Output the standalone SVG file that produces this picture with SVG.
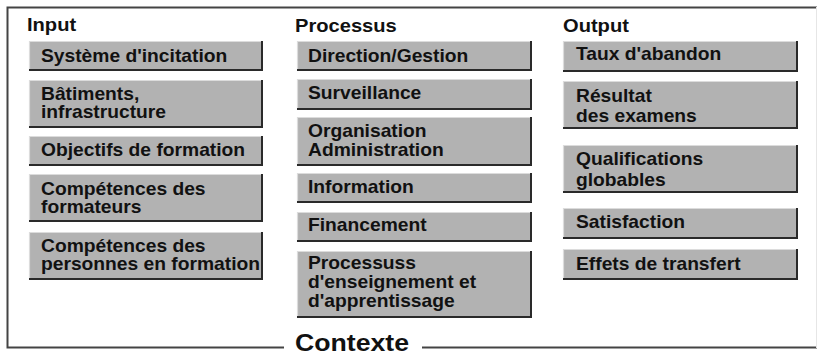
<svg xmlns="http://www.w3.org/2000/svg" width="817" height="352" viewBox="0 0 817 352">
<style>
.frame{fill:none;stroke:#444;stroke-width:2}
.box{fill:#b2b2b2}
.hl{fill:none;stroke:#dcdcdc;stroke-width:1.2}
.sh{fill:none;stroke:#2a2a2a;stroke-width:2}
.t{font-family:"Liberation Sans",Arial,sans-serif;font-weight:bold;font-size:17.5px;fill:#111}
.h{font-family:"Liberation Sans",Arial,sans-serif;font-weight:bold;font-size:17.5px;fill:#111}
.c{font-family:"Liberation Sans",Arial,sans-serif;font-weight:bold;font-size:23px;fill:#111}
</style>
<rect width="817" height="352" fill="#fff"/>
<g id="frame">
<path class="frame" d="M817,7.5 H7.5 V347.5 H284"/>
<path class="frame" d="M422,347.5 H817"/>
<line x1="816.5" y1="7" x2="816.5" y2="348" stroke="#e6e6e6" stroke-width="1"/>
<text class="c" transform="translate(295,351) scale(1.16,1)">Contexte</text>
</g>
<g id="headers">
<text class="h" transform="translate(27,31) scale(1.15,1)">Input</text>
<text class="h" transform="translate(295,32) scale(1.15,1)">Processus</text>
<text class="h" transform="translate(563,32) scale(1.15,1)">Output</text>
</g>
<g id="connectors"></g>
<!-- Input column -->
<g id="in1"><rect class="box" x="29" y="41" width="234" height="30"/><path class="hl" d="M29.5,71 V41.5 H263"/><path class="sh" d="M262,41 V70 H29"/><text class="t" transform="translate(41,62) scale(1.1,1)">Système d'incitation</text></g>
<g id="in2"><rect class="box" x="29" y="80" width="234" height="48"/><path class="hl" d="M29.5,128 V80.5 H263"/><path class="sh" d="M262,80 V127 H29"/><text class="t" transform="translate(41,100) scale(1.1,1)"><tspan x="0" y="0">Bâtiments,</tspan><tspan x="0" y="18.5">infrastructure</tspan></text></g>
<g id="in3"><rect class="box" x="29" y="136" width="234" height="30"/><path class="hl" d="M29.5,166 V136.5 H263"/><path class="sh" d="M262,136 V165 H29"/><text class="t" transform="translate(41,156) scale(1.1,1)">Objectifs de formation</text></g>
<g id="in4"><rect class="box" x="29" y="174" width="234" height="48"/><path class="hl" d="M29.5,222 V174.5 H263"/><path class="sh" d="M262,174 V221 H29"/><text class="t" transform="translate(41,194.5) scale(1.1,1)"><tspan x="0" y="0">Compétences des</tspan><tspan x="0" y="18.5">formateurs</tspan></text></g>
<g id="in5"><rect class="box" x="29" y="232" width="234" height="48"/><path class="hl" d="M29.5,280 V232.5 H263"/><path class="sh" d="M262,232 V279 H29"/><text class="t" transform="translate(41,251.5) scale(1.1,1)"><tspan x="0" y="0">Compétences des</tspan><tspan x="0" y="18.5">personnes en formation</tspan></text></g>
<!-- Processus column -->
<g id="pr1"><rect class="box" x="297" y="41" width="235" height="30"/><path class="hl" d="M297.5,71 V41.5 H532"/><path class="sh" d="M531,41 V70 H297"/><text class="t" transform="translate(308,62) scale(1.1,1)">Direction/Gestion</text></g>
<g id="pr2"><rect class="box" x="297" y="79" width="235" height="31"/><path class="hl" d="M297.5,110 V79.5 H532"/><path class="sh" d="M531,79 V109 H297"/><text class="t" transform="translate(308,99) scale(1.1,1)">Surveillance</text></g>
<g id="pr3"><rect class="box" x="297" y="117" width="235" height="49"/><path class="hl" d="M297.5,166 V117.5 H532"/><path class="sh" d="M531,117 V165 H297"/><text class="t" transform="translate(308,137) scale(1.1,1)"><tspan x="0" y="0">Organisation</tspan><tspan x="0" y="19">Administration</tspan></text></g>
<g id="pr4"><rect class="box" x="297" y="173" width="235" height="30"/><path class="hl" d="M297.5,203 V173.5 H532"/><path class="sh" d="M531,173 V202 H297"/><text class="t" transform="translate(308,193) scale(1.1,1)">Information</text></g>
<g id="pr5"><rect class="box" x="297" y="212" width="235" height="30"/><path class="hl" d="M297.5,242 V212.5 H532"/><path class="sh" d="M531,212 V241 H297"/><text class="t" transform="translate(308,231) scale(1.1,1)">Financement</text></g>
<g id="pr6"><rect class="box" x="297" y="251" width="235" height="67"/><path class="hl" d="M297.5,318 V251.5 H532"/><path class="sh" d="M531,251 V317 H297"/><text class="t" transform="translate(308,269) scale(1.1,1)"><tspan x="0" y="0">Processuss</tspan><tspan x="0" y="19">d'enseignement et</tspan><tspan x="0" y="38">d'apprentissage</tspan></text></g>
<!-- Output column -->
<g id="out1"><rect class="box" x="563" y="41" width="235" height="31"/><path class="hl" d="M563.5,72 V41.5 H798"/><path class="sh" d="M797,41 V71 H563"/><text class="t" transform="translate(576,60) scale(1.1,1)">Taux d'abandon</text></g>
<g id="out2"><rect class="box" x="563" y="81" width="235" height="48"/><path class="hl" d="M563.5,129 V81.5 H798"/><path class="sh" d="M797,81 V128 H563"/><text class="t" transform="translate(576,102) scale(1.1,1)"><tspan x="0" y="0">Résultat</tspan><tspan x="0" y="20">des examens</tspan></text></g>
<g id="out3"><rect class="box" x="563" y="145" width="235" height="48"/><path class="hl" d="M563.5,193 V145.5 H798"/><path class="sh" d="M797,145 V192 H563"/><text class="t" transform="translate(576,165) scale(1.1,1)"><tspan x="0" y="0">Qualifications</tspan><tspan x="0" y="21">globables</tspan></text></g>
<g id="out4"><rect class="box" x="563" y="208" width="235" height="31"/><path class="hl" d="M563.5,239 V208.5 H798"/><path class="sh" d="M797,208 V238 H563"/><text class="t" transform="translate(576,228) scale(1.1,1)">Satisfaction</text></g>
<g id="out5"><rect class="box" x="563" y="249" width="235" height="31"/><path class="hl" d="M563.5,280 V249.5 H798"/><path class="sh" d="M797,249 V279 H563"/><text class="t" transform="translate(576,270) scale(1.1,1)">Effets de transfert</text></g>
</svg>
